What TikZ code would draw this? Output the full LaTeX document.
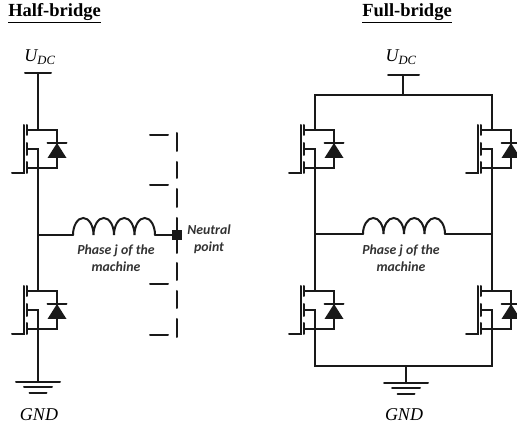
\documentclass[tikz,border=0pt]{standalone}
\usepackage{fontspec}
\setmainfont{Liberation Serif}
\newfontfamily\labelfont{Carlito}
\usepackage{xcolor}
\usetikzlibrary{positioning}

\tikzset{
    wire/.style={line width=2pt, line cap=round, black!90},
    titletext/.style={font=\bfseries\fontsize{18.5}{20}\selectfont, inner sep=0pt},
    railtext/.style={font=\itshape\fontsize{18}{20}\selectfont, inner sep=0pt},
    phasetext/.style={font=\labelfont\bfseries\itshape\fontsize{13.8}{17}\selectfont, align=center, inner sep=0pt, text=black!80},
    % transistor with its diode, origin on the drain line at mid height
    mos/.pic={
        \coordinate (-d) at (0,-19);
        \coordinate (-s) at (0,19);
        \draw[wire] (-14,-24) -- (-14,24) -- (-26,24);
        \draw[wire] (-11,-24) -- (-11,-14);
        \draw[wire] (-11,-6) -- (-11,6);
        \draw[wire] (-11,13) -- (-11,24);
        \draw[wire] (-11,-19) -- (19,-19) -- (19,19) -- (-11,19);
        \draw[wire] (-11,0) -- (0,0) -- (0,19);
        \draw[wire] (9.5,-6) -- (28.5,-6);
        \fill[black!90] (19,-6) -- (28.5,9) -- (9.5,9) -- cycle;
    },
    gnd/.pic={
        \draw[wire] (-22,0) -- (22,0);
        \draw[wire] (-14,5.5) -- (14,5.5);
        \draw[wire] (-8.5,11) -- (8.5,11);
    }
}

\begin{document}
\begin{tikzpicture}[x=1pt, y=-1pt]
    \useasboundingbox (0,0) rectangle (517,430);

    % half-bridge
    \node[titletext] (halftitle) at (54.5,13) {\underline{Half-bridge}};
    \node[railtext] (halfudc) at (40,57) {$\mathit{U_{DC}}$};
    \coordinate (halfbus) at (38,73);
    \draw[wire] (25,73) -- (51,73);

    \pic (hs) at (38,149) {mos};
    \pic (ls) at (38,310) {mos};
    \coordinate (halfmid) at (38,235);
    \coordinate (halfcoilin) at (73,235);
    \coordinate (halfcoilout) at (155,235);
    \node[fill=black!90, minimum size=10pt, inner sep=0pt] (neutral) at (177,235) {};
    \pic at (38,382) {gnd};
    \coordinate (halfgnd) at (38,382);

    \draw[wire] (halfbus) -- (hs-d);
    \draw[wire] (hs-s) -- (ls-d);
    \draw[wire] (ls-s) -- (halfgnd);
    \draw[wire] (halfmid) -- (halfcoilin);
    \draw[wire] (halfcoilin)
        \foreach \hump in {1,...,4} { arc[start angle=180, end angle=0, x radius=10.25pt, y radius=17pt] };
    \draw[wire] (halfcoilout) -- (neutral);

    \foreach \dashtop/\dashbot in {133/151, 162/178, 189/207, 218/253, 263/280, 291/308, 319/337}
        \draw[wire] (177,\dashtop) -- (177,\dashbot);
    \foreach \tick in {135,185,284,335}
        \draw[wire] (150,\tick) -- (168,\tick);

    \node[phasetext] (halfphase) at (116,258) {Phase j of the\\machine};
    \node[phasetext] (neutraltext) at (209,239) {Neutral\\point};
    \node[railtext] (halfgndtext) at (39,415) {GND};

    % full-bridge
    \node[titletext] (fulltitle) at (407,13) {\underline{Full-bridge}};
    \node[railtext] (fulludc) at (401,57) {$\mathit{U_{DC}}$};
    \coordinate (fullbus) at (403,75);
    \draw[wire] (388,75) -- (419,75);
    \coordinate (railtop) at (403,95);
    \coordinate (raill) at (315,95);
    \coordinate (railr) at (492,95);

    \pic (a) at (315,149) {mos};
    \pic (b) at (492,149) {mos};
    \pic (c) at (315,310) {mos};
    \pic (d) at (492,310) {mos};

    \coordinate (midl) at (315,234);
    \coordinate (midr) at (492,234);
    \coordinate (fullcoilin) at (363,234);
    \coordinate (fullcoilout) at (445,234);
    \coordinate (botl) at (315,366);
    \coordinate (botr) at (492,366);
    \coordinate (botmid) at (406,366);
    \coordinate (fullgnd) at (406,383);
    \pic at (406,383) {gnd};

    \draw[wire] (fullbus) -- (railtop);
    \draw[wire] (a-d) -- (raill) -- (railr) -- (b-d);
    \draw[wire] (a-s) -- (c-d);
    \draw[wire] (b-s) -- (d-d);
    \draw[wire] (c-s) -- (botl) -- (botr) -- (d-s);
    \draw[wire] (botmid) -- (fullgnd);
    \draw[wire] (midl) -- (fullcoilin);
    \draw[wire] (fullcoilin)
        \foreach \hump in {1,...,4} { arc[start angle=180, end angle=0, x radius=10.25pt, y radius=16pt] };
    \draw[wire] (fullcoilout) -- (midr);

    \node[phasetext] (fullphase) at (401,258) {Phase j of the\\machine};
    \node[railtext] (fullgndtext) at (404,415) {GND};
\end{tikzpicture}
\end{document}
